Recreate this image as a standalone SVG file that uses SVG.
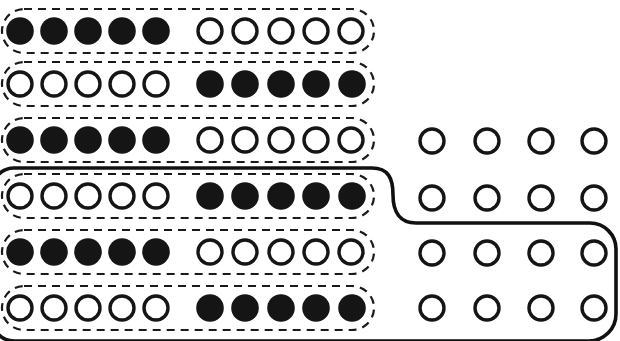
<svg xmlns="http://www.w3.org/2000/svg" xmlns:xlink="http://www.w3.org/1999/xlink" width="620" height="341" viewBox="0 0 620 341">
<style>
.cap{fill:none;stroke:#1a1a1a;stroke-width:2.2;stroke-dasharray:8 6}
.f{fill:#151515}
.o{fill:none;stroke:#151515;stroke-width:3.4}
.outline{fill:none;stroke:#111;stroke-width:3.6}
</style>
<defs>
<circle id="F" r="13.8" class="f"/>
<circle id="O" r="12" class="o"/>
<g id="FO">
<use href="#F" x="20"/><use href="#F" x="54"/><use href="#F" x="88"/><use href="#F" x="122"/><use href="#F" x="156"/>
<use href="#O" x="210"/><use href="#O" x="245"/><use href="#O" x="281"/><use href="#O" x="316"/><use href="#O" x="351"/>
</g>
<g id="OF">
<use href="#O" x="20"/><use href="#O" x="54"/><use href="#O" x="88"/><use href="#O" x="122"/><use href="#O" x="156"/>
<use href="#F" x="210"/><use href="#F" x="245"/><use href="#F" x="281"/><use href="#F" x="316"/><use href="#F" x="352"/>
</g>
<g id="G4">
<use href="#O" x="432"/><use href="#O" x="487"/><use href="#O" x="541"/><use href="#O" x="594"/>
</g>
</defs>
<rect width="620" height="341" fill="#fff"/>
<g id="row1"><rect class="cap" x="2" y="9" width="372" height="44" rx="22"/><use href="#FO" y="31"/></g>
<g id="row2"><rect class="cap" x="2" y="62" width="372" height="44" rx="22"/><use href="#OF" y="84"/></g>
<g id="row3"><rect class="cap" x="2" y="118" width="372" height="44" rx="22"/><use href="#FO" y="140"/></g>
<g id="row4"><rect class="cap" x="2" y="174" width="372" height="44" rx="22"/><use href="#OF" y="196"/></g>
<g id="row5"><rect class="cap" x="2" y="230" width="372" height="44" rx="22"/><use href="#FO" y="252"/></g>
<g id="row6"><rect class="cap" x="2" y="286" width="372" height="44" rx="22"/><use href="#OF" y="308"/></g>
<g id="grid">
<use href="#G4" y="141"/><use href="#G4" y="198"/><use href="#G4" y="253"/><use href="#G4" y="308"/>
</g>
<g id="connectors">
<path class="outline" d="M 14,168 H 372 C 388,168 393,178 393,195 C 393,212 400,223 416,223 H 590 A 26 26 0 0 1 616,249 V 314 A 27 27 0 0 1 589,341 H 14 A 22 22 0 0 1 -8,319 V 190 A 22 22 0 0 1 14,168 Z"/>
</g>
</svg>
